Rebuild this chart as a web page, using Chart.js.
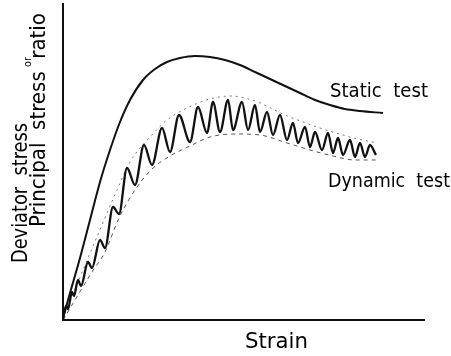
<!DOCTYPE html>
<html>
<head>
<meta charset="utf-8">
<script src="https://cdn.jsdelivr.net/npm/chart.js@4.4.1/dist/chart.umd.min.js"></script>
<style>
  html, body { margin: 0; padding: 0; background: #fff; }
  #wrap { width: 451px; height: 356px; }
</style>
</head>
<body>
<div id="wrap"><canvas id="mycanvas" width="451" height="356"></canvas></div>
<script>
// strain / stress values (arbitrary units, origin at axes corner)
var staticStrain = [0, 7, 17, 27, 37, 47, 57, 67, 80, 92, 104, 117, 132, 147, 162, 177, 192, 207, 222, 237, 252, 267, 282, 297, 320];
var staticStress = [2, 27, 62, 100, 138, 170, 198, 220, 240, 251, 258, 262, 264, 263, 260, 255, 248, 241, 234, 227, 220, 215, 211, 209, 207];

var dynamicStrain = [0, 3, 5, 9, 11, 15, 18, 25, 29, 37, 42, 50, 56, 64, 72, 81, 89, 99, 107, 116, 127, 135, 144, 150, 157, 165, 170, 179, 185, 192, 197, 204, 210, 217, 224, 230, 235, 242, 247, 252, 259, 265, 270, 275, 280, 287, 292, 297, 302, 307, 313];
var dynamicStress = [1, 14, 11, 28, 24, 40, 34, 58, 52, 80, 72, 113, 106, 152, 135, 175, 155, 192, 168, 205, 178, 213, 187, 218, 188, 220, 190, 218, 190, 215, 188, 208, 185, 205, 180, 197, 177, 193, 173, 188, 170, 187, 167, 182, 165, 180, 163, 177, 163, 175, 165];

var upperStrain = [0, 25, 39, 54, 67, 87, 104, 124, 147, 167, 192, 222, 257, 287, 314];
var upperStress = [2, 62, 95, 130, 158, 183, 200, 212, 221, 224, 219, 205, 192, 183, 177];

var lowerStrain = [0, 18, 29, 42, 56, 72, 89, 107, 127, 147, 172, 197, 224, 247, 270, 292, 315];
var lowerStress = [0, 30, 48, 68, 102, 130, 151, 164, 174, 183, 186, 185, 177, 170, 164, 160, 160];

function pts(xs, ys) {
    var out = [];
    for (var i in xs) {
        out.push({x: xs[i], y: ys[i]});
    }
    return out;
}

// squeeze text horizontally so it fills the given length
function fitText(ctx, text, x, y, size, len, angle) {
    ctx.save();
    ctx.translate(x, y);
    ctx.rotate(angle);
    ctx.font = size + 'px "DejaVu Sans"';
    var w = ctx.measureText(text).width;
    ctx.scale(len / w, 1);
    ctx.fillStyle = '#000';
    ctx.textAlign = 'left';
    ctx.textBaseline = 'alphabetic';
    ctx.fillText(text, 0, 0);
    ctx.restore();
}

var labels = {
    id: 'labels',
    afterDraw: function(chart) {
        var ctx = chart.ctx;
        var a = chart.chartArea;
        ctx.save();
        ctx.strokeStyle = '#111';
        ctx.lineWidth = 2;
        ctx.beginPath();
        ctx.moveTo(a.left, a.top);
        ctx.lineTo(a.left, a.bottom);
        ctx.lineTo(a.right, a.bottom);
        ctx.stroke();
        ctx.restore();

        fitText(ctx, 'Strain', 245, 348, 22, 63, 0);
        fitText(ctx, 'Static  test', 330, 97, 19, 98, 0);
        fitText(ctx, 'Dynamic  test', 328, 187, 19, 122, 0);
        fitText(ctx, 'Deviator  stress', 27, 263, 22, 140, -Math.PI / 2);
        fitText(ctx, 'Principal  stress  ratio', 45, 227, 22, 214, -Math.PI / 2);
        fitText(ctx, 'or', 31, 67, 11, 10, -Math.PI / 2);
    }
};

var chartdata = {
    datasets: [
        {
            label: 'Static test',
            data: pts(staticStrain, staticStress),
            borderColor: '#111',
            borderWidth: 2,
            pointRadius: 0,
            cubicInterpolationMode: 'monotone'
        },
        {
            label: 'Dynamic test',
            data: pts(dynamicStrain, dynamicStress),
            borderColor: '#111',
            borderWidth: 2.3,
            pointRadius: 0,
            cubicInterpolationMode: 'monotone'
        },
        {
            label: 'upper',
            data: pts(upperStrain, upperStress),
            borderColor: '#777',
            borderWidth: 1,
            borderDash: [2, 4],
            pointRadius: 0,
            cubicInterpolationMode: 'monotone'
        },
        {
            label: 'lower',
            data: pts(lowerStrain, lowerStress),
            borderColor: '#555',
            borderWidth: 1,
            borderDash: [4, 4],
            pointRadius: 0,
            cubicInterpolationMode: 'monotone'
        }
    ]
};

var ctx = document.getElementById('mycanvas');
var graph = new Chart(ctx, {
    type: 'line',
    data: chartdata,
    options: {
        responsive: false,
        animation: false,
        layout: { padding: { left: 63, right: 26, top: 3, bottom: 36 } },
        plugins: { legend: { display: false }, tooltip: { enabled: false } },
        scales: {
            x: { type: 'linear', min: 0, max: 362, display: false },
            y: { type: 'linear', min: 0, max: 317, display: false }
        }
    },
    plugins: [labels]
});
</script>
</body>
</html>
